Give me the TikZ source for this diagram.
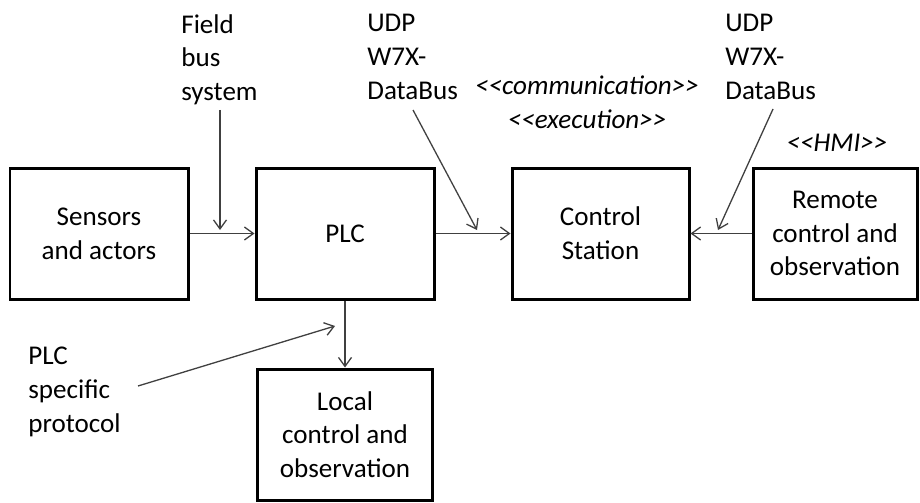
\documentclass[tikz,border=0pt]{standalone}
\usepackage{fontspec}
\setmainfont{Carlito}
\usepackage{tikz}
\usetikzlibrary{arrows.meta}
\usetikzlibrary{calc}

\newcommand{\diafont}{\fontsize{15.4}{19.2}\selectfont}

\tikzset{
  block/.style={draw, line width=0.06cm, minimum width=3.5cm, minimum height=2.62cm, align=center, inner sep=0pt},
  conn/.style={draw=black!75, line width=0.026cm, -{Straight Barb[length=1.8mm,width=2.6mm]}},
  lbl/.style={align=left, inner sep=0pt},
  stereo/.style={align=center, inner sep=0pt, font=\diafont\itshape}
}

\begin{document}
\begin{tikzpicture}[font=\diafont]

\useasboundingbox (0,0) rectangle (18.4,10.04);

\node[block, minimum width=3.56cm] (sens) at (1.98,5.37) {Sensors\\and actors};
\node[block, minimum width=3.56cm] (plc) at (6.90,5.37) {PLC};
\node[block, minimum width=3.54cm] (cs) at (12.01,5.37) {Control\\Station};
\node[block, minimum width=3.28cm] (rem) at (16.70,5.37) {Remote\\control and\\observation};
\node[block] (loc) at (6.90,1.35) {Local\\control and\\observation};

\node[lbl, anchor=north west] (fb) at (3.62,9.76) {Field\\bus\\system};
\node[lbl, anchor=north west] (udpa) at (7.34,9.76) {UDP\\W7X-\\DataBus};
\node[lbl, anchor=north west] (udpb) at (14.50,9.76) {UDP\\W7X-\\DataBus};
\node[stereo] (comm) at (11.74,8.00) {{<}{<}communication{>}{>}\\{<}{<}execution{>}{>}};
\node[stereo] (hmi) at (16.74,7.18) {{<}{<}HMI{>}{>}};
\node[lbl, anchor=north west] (psp) at (0.56,3.10) {PLC\\specific\\protocol};

\coordinate (fbs) at (4.40,7.84);
\coordinate (fbe) at (4.40,5.44);
\coordinate (udpas) at (8.26,7.84);
\coordinate (udpae) at (9.54,5.44);
\coordinate (udpbs) at (15.46,7.86);
\coordinate (udpbe) at (14.36,5.44);
\coordinate (psps) at (2.76,2.32);
\coordinate (pspe) at (6.70,3.52);

\draw[conn] (sens.east) -- (plc.west);
\draw[conn] (plc.east) -- (cs.west);
\draw[conn] (rem.west) -- (cs.east);
\draw[conn] (plc.south) -- (loc.north);

\draw[conn] (fbs) -- (fbe);
\draw[conn] (udpas) -- (udpae);
\draw[conn] (udpbs) -- (udpbe);
\draw[conn] (psps) -- (pspe);

\end{tikzpicture}
\end{document}
